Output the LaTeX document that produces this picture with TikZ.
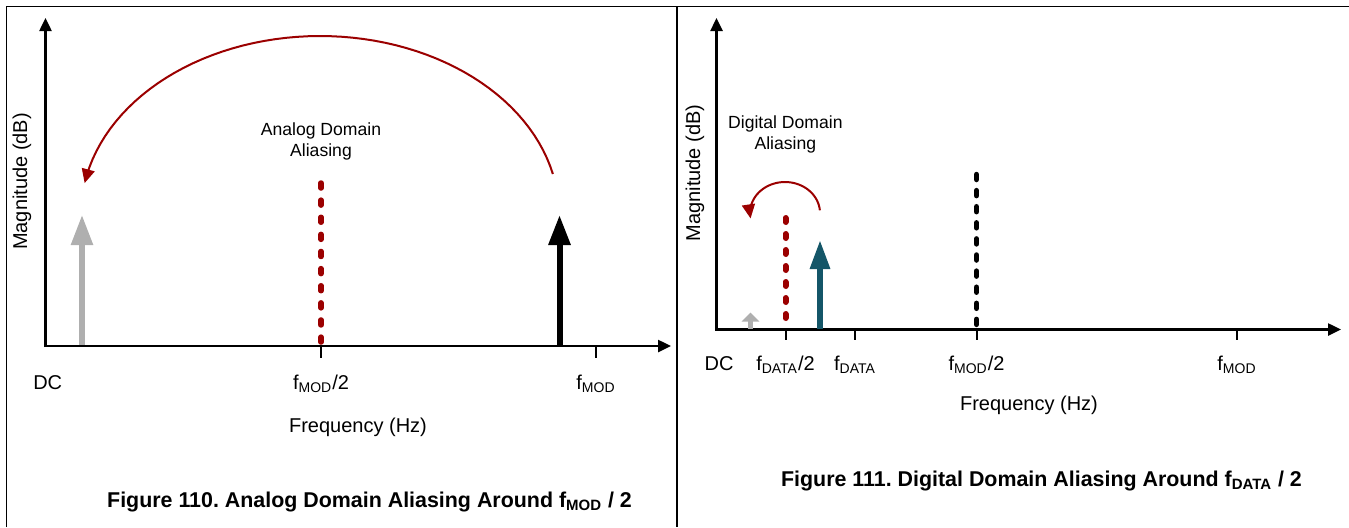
\documentclass[tikz,border=0pt]{standalone}
\usepackage{fontspec}
\setmainfont{Liberation Sans}
\usetikzlibrary{arrows.meta}
\definecolor{foldred}{RGB}{155,0,0}
\definecolor{tonegray}{RGB}{175,175,175}
\definecolor{datateal}{RGB}{20,86,104}
\tikzset{
  axisline/.style={line width=1.25pt,-{Triangle[width=6pt,length=6.5pt]}},
  tickmark/.style={line width=1pt},
  tone/.style={line width=2.75pt,-{Triangle[width=10.5pt,length=15pt]}},
  fold/.style={draw=foldred,line width=1pt,-{Triangle[width=6.5pt,length=7pt]}},
  dotline/.style={line width=2.75pt,line cap=round},
  lbl/.style={font=\fontsize{10}{12}\selectfont,anchor=base,inner sep=0pt},
  note/.style={font=\fontsize{8.8}{10.5}\selectfont,align=center,inner sep=0pt},
  caption/.style={font=\fontsize{10.7}{13}\selectfont\bfseries,anchor=base,inner sep=0pt},
}
\frenchspacing
\begin{document}
\begin{tikzpicture}[x=0.5pt,y=-0.5pt]
  \useasboundingbox (0,0) rectangle (1349,527);
  % Frame
  \draw[line width=0.75pt] (6.5,527) -- (6.5,6.5) -- (1349,6.5);
  \draw[line width=0.75pt] (677,6.5) -- (677,527);

  % Left: axes and ticks
  \draw[axisline] (45.5,347) -- (45.5,18);
  \draw[axisline] (45,346) -- (671,346);
  \draw[tickmark] (321,346) -- (321,358);
  \draw[tickmark] (596,346) -- (596,358);
  % Left: tones and fold line
  \draw[tone,tonegray] (82,345) -- (82,215);
  \draw[tone,black,line width=3pt] (559.5,345) -- (559.5,215);
  \draw[dotline,foldred,dash pattern=on 2.5pt off 6.06pt] (321,183) -- (321,342);
  \draw[fold] plot[domain=13:170,samples=60,variable=\t] ({320+239*cos(\t)},{214-178*sin(\t)});
  % Left: texts
  \node[note] (noteA) at (321,141) {Analog Domain\\Aliasing};
  \node[lbl,rotate=90,anchor=center] (magA) at (22,181.5) {Magnitude (dB)};
  \node[lbl] (dcA) at (47.7,389) {DC};
  \node[lbl] (halfA) at (321,389) {f\textsubscript{MOD}/2};
  \node[lbl] (fmodA) at (596,389) {f\textsubscript{MOD}};
  \node[lbl] (freqA) at (358,432.5) {Frequency (Hz)};
  \node[caption] (capA) at (369.5,507) {Figure 110. Analog Domain Aliasing Around f\textsubscript{MOD} / 2};

  % Right: axes and ticks
  \draw[axisline] (716.5,330.5) -- (716.5,18);
  \draw[axisline] (716,329.5) -- (1341,329.5);
  \foreach \fx in {785.5,855,976.5,1237}
    \draw[tickmark] (\fx,329.5) -- (\fx,340);
  % Right: tones and fold lines
  \draw[tonegray,line width=2.5pt,-{Triangle[width=8.5pt,length=4.5pt]}] (750.5,328.5) -- (750.5,312.5);
  \draw[tone,datateal,line width=3pt,-{Triangle[width=9.5pt,length=14.5pt]}] (820,328.5) -- (820,240);
  \draw[dotline,foldred,line width=3pt,dash pattern=on 2pt off 6pt] (785.5,218) -- (785.5,318);
  \draw[dotline,black,dash pattern=on 2.5pt off 5.55pt] (976.5,174.5) -- (976.5,325);
  \draw[fold] plot[domain=5:190,samples=40,variable=\t] ({785+35*cos(\t)},{213-31*sin(\t)});
  % Right: texts
  \node[note] (noteB) at (785.4,134) {Digital Domain\\Aliasing};
  \node[lbl,rotate=90,anchor=center] (magB) at (695,173) {Magnitude (dB)};
  \node[lbl] (dcB) at (719,370) {DC};
  \node[lbl] (halfB) at (785.5,370) {f\textsubscript{DATA}/2};
  \node[lbl] (fdataB) at (855,370) {f\textsubscript{DATA}};
  \node[lbl] (halfmodB) at (976.5,370) {f\textsubscript{MOD}/2};
  \node[lbl] (fmodB) at (1237,370) {f\textsubscript{MOD}};
  \node[lbl] (freqB) at (1029,410) {Frequency (Hz)};
  \node[caption] (capB) at (1041.5,486) {Figure 111. Digital Domain Aliasing Around f\textsubscript{DATA} / 2};
\end{tikzpicture}
\end{document}
